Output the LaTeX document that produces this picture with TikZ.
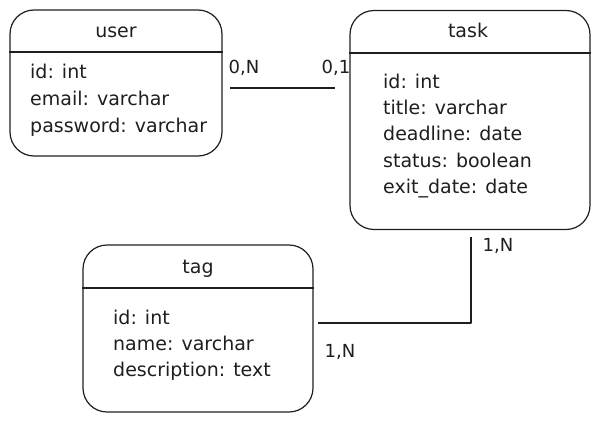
\documentclass[tikz,border=0pt]{standalone}
\usepackage{fontspec}
\setmainfont{DejaVu Sans}
\definecolor{ink}{HTML}{1E1E1E}

\begin{document}
\begin{tikzpicture}[x=1pt,y=-1pt,line join=round,
   entity/.style={draw=ink,line width=1.2pt,rounded corners=24pt,inner sep=0pt},
   divider/.style={draw=ink,line width=1.2pt},
   title/.style={anchor=base,text=ink,font=\fontsize{19}{19}\selectfont},
   field/.style={anchor=base west,text=ink,inner sep=0pt,font=\fontsize{19}{19}\selectfont},
   card/.style={text=ink,inner sep=0pt,font=\fontsize{18}{18}\selectfont},
   link/.style={draw=ink,line width=1.3pt}]
\useasboundingbox (0,0) rectangle (599,423);

% entities
\node[entity,minimum width=212pt,minimum height=146pt] (user) at (116,83) {};
\node[entity,minimum width=240pt,minimum height=219pt] (task) at (470,120) {};
\node[entity,minimum width=230pt,minimum height=167pt] (tag) at (198,328.5) {};

\draw[divider] (user.west |- 0,52) -- (user.east |- 0,52);
\draw[divider] (task.west |- 0,53) -- (task.east |- 0,53);
\draw[divider] (tag.west |- 0,288) -- (tag.east |- 0,288);

\node[title] (user-t) at (116,37) {user};
\node[title] (task-t) at (468,37) {task};
\node[title] (tag-t) at (198,273) {tag};

\foreach \txt [count=\i] in {id: int,email: varchar,password: varchar}
   \node[field] (user-\i) at (30,51+27*\i) {\txt};
\foreach \txt [count=\i] in {id: int,title: varchar,deadline: date,status: boolean,exit\_date: date}
   \node[field] (task-\i) at (383,62+26.25*\i) {\txt};
\foreach \txt [count=\i] in {id: int,name: varchar,description: text}
   \node[field] (tag-\i) at (113,298+26*\i) {\txt};

% relations
\coordinate (ut-a) at (230,88);
\coordinate (ut-b) at (335,88);
\coordinate (tt-a) at (471,237);
\coordinate (tt-b) at (318,323);
\draw[link] (ut-a) -- (ut-b);
\draw[link] (tt-a) |- (tt-b);

\node[card] (ut-ca) at (244,68) {0,N};
\node[card] (ut-cb) at (336,68) {0,1};
\node[card] (tt-ca) at (498,246) {1,N};
\node[card] (tt-cb) at (340,352) {1,N};

\end{tikzpicture}
\end{document}
